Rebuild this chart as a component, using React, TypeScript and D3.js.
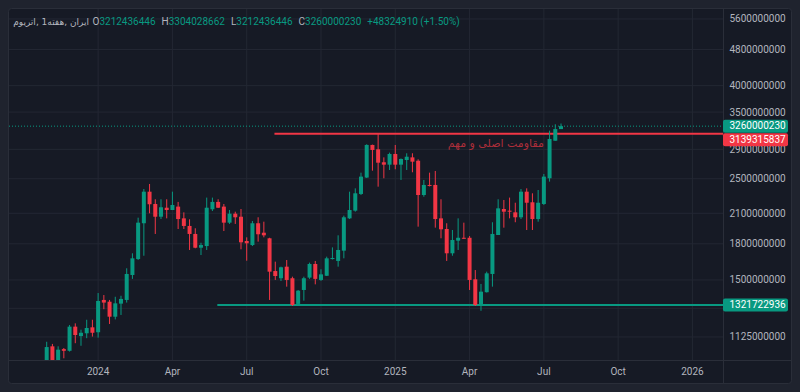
import * as d3 from "d3";

// weekly candles, first bar opens the week of 2023-10-30
const FIRST_WEEK = new Date(Date.UTC(2023, 9, 30));

// OHLC in millions of rial
const opens = [
  991, 1073, 995, 1058, 1049, 1185, 1130, 1146, 1181, 1152,
  1356, 1344, 1246, 1331, 1356, 1538, 1667, 1997, 2342, 2201,
  2064, 2160, 2135, 2172, 2047, 1970, 1892, 1765, 1780, 2143,
  2224, 2172, 2003, 2096, 2064, 1826, 1789, 1997, 1904, 1851,
  1569, 1513, 1604, 1513, 1329, 1426, 1518, 1626, 1500, 1532,
  1667, 1651, 1739, 2047, 2128, 2315, 2515, 2965, 2901, 2717,
  2684, 2833, 2684, 2748, 2785, 2738, 2303, 2423, 2423, 2047,
  1940, 1716, 1829, 1856, 1856, 1505, 1322, 1410, 1546, 1882,
  2146, 2128, 2110, 2058, 2342, 2220, 2040, 2201, 2506, 3029,
  3212.436446,
];
const highs = [
  1098, 1086, 1073, 1064, 1195, 1205, 1167, 1227, 1227, 1404,
  1390, 1356, 1378, 1385, 1591, 1716, 2054, 2374, 2435, 2254,
  2254, 2254, 2342, 2224, 2110, 2037, 1947, 1810, 2273, 2273,
  2254, 2201, 2135, 2117, 2146, 1860, 2020, 2058, 2013, 1856,
  1645, 1604, 1659, 1525, 1426, 1525, 1637, 1651, 1583, 1687,
  1768, 1879, 2075, 2342, 2382, 2578, 2975, 2970, 3139, 2785,
  2852, 2965, 2770, 2843, 2843, 2758, 2485, 2578, 2600, 2254,
  1997, 1930, 2047, 2003, 1872, 1577, 1470, 1564, 2007, 2254,
  2246, 2273, 2215, 2374, 2382, 2323, 2362, 2561, 3187, 3291,
  3304.028662,
];
const lows = [
  976, 975, 985, 1010, 1045, 1090, 1076, 1118, 1127, 1121,
  1294, 1201, 1229, 1257, 1338, 1508, 1659, 1695, 2100, 1892,
  2040, 2047, 2135, 1940, 1940, 1745, 1760, 1701, 1745, 2124,
  2157, 1920, 1990, 1990, 1751, 1653, 1780, 1820, 1860, 1356,
  1500, 1492, 1450, 1315, 1322, 1351, 1508, 1467, 1493, 1530,
  1663, 1604, 1673, 2040, 2117, 2303, 2510, 2604, 2402, 2506,
  2613, 2622, 2485, 2613, 2583, 1963, 2283, 2405, 1953, 1851,
  1651, 1695, 1745, 1845, 1426, 1315, 1284, 1408, 1450, 1882,
  1953, 2047, 2007, 2040, 1930, 1930, 2013, 2190, 2464, 3029,
  3212.436446,
];
const closes = [
  1069, 995, 1055, 1049, 1185, 1136, 1149, 1177, 1149, 1349,
  1338, 1246, 1333, 1363, 1546, 1673, 2003, 2342, 2198, 2064,
  2165, 2135, 2190, 2040, 1970, 1892, 1765, 1789, 2160, 2224,
  2160, 2003, 2096, 2058, 1814, 1805, 1997, 1889, 1879, 1564,
  1530, 1599, 1500, 1322, 1421, 1513, 1626, 1508, 1543, 1673,
  1676, 1745, 2058, 2135, 2323, 2527, 2965, 2891, 2711, 2684,
  2833, 2684, 2762, 2794, 2725, 2303, 2423, 2411, 2040, 1937,
  1716, 1835, 1856, 1847, 1500, 1322, 1414, 1551, 1892, 2153,
  2117, 2117, 2058, 2342, 2215, 2040, 2215, 2527, 3056, 3212.436446,
  3260.00023,
];

const priceTicks = [
  5600000000, 4800000000, 4000000000, 3500000000, 2900000000, 2500000000,
  2100000000, 1800000000, 1500000000, 1300000000, 1125000000,
];
// labels that sit under a price tag are not printed
const hiddenTickLabels = [1300000000];

const lastPrice = 3260000230;
const resistance = 3139315837;
const support = 1321722936;
const resistanceFrom = new Date(Date.UTC(2024, 7, 4));
const supportFrom = new Date(Date.UTC(2024, 4, 26));
const labelAt = new Date(Date.UTC(2025, 5, 30));

const titleParts = ["\u2066اتریوم\u2069", ", 1", "\u2066هفته\u2069", ", ", "\u2066ایران\u2069"];
const legendKeys = ["O", "H", "L", "C"];
const legendValues = ["3212436446", "3304028662", "3212436446", "3260000230"];
const legendChange = "+48324910 (+1.50%)";
const resistanceText = "مقاومت اصلی و مهم";

const UP = "#089981";
const DOWN = "#f23645";
const BG = "#161a25";
const GRID = "#232733";
const TEXT = "#b2b5be";
const FONT = "Roboto, 'DejaVu Sans', sans-serif";

export default function App() {
  const left = 9;
  const top = 9;
  const right = 723;
  const bottom = 360;

  const weeks = opens.map((_, i) => d3.utcMonday.offset(FIRST_WEEK, i));
  const candles = weeks.map((date, i) => ({
    date,
    open: opens[i] * 1e6,
    high: highs[i] * 1e6,
    low: lows[i] * 1e6,
    close: closes[i] * 1e6,
  }));

  const x = d3.scaleUtc().domain([weeks[0], weeks[weeks.length - 1]]).range([46.7, 561]);
  const y = d3.scaleLog().domain([1.0014e9, 6.163e9]).range([bottom, 0]);

  const timeTicks = d3.utcMonth
    .every(3)!
    .range(new Date(Date.UTC(2024, 0, 1)), new Date(Date.UTC(2026, 0, 2)))
    .map((d) => ({
      x: x(d3.utcMonday.floor(d)),
      label: d.getUTCMonth() === 0 ? String(d.getUTCFullYear()) : d3.utcFormat("%b")(d),
    }));

  const bodyW = 4;
  const tagH = 13;
  const lastY = y(lastPrice);
  const lastTagTop = lastY - tagH / 2;
  const resTagTop = lastTagTop + tagH + 0.5;
  const supY = y(support);

  return (
    <svg
      width={800}
      height={392}
      style={{ position: "absolute", left: 0, top: 0, fontFamily: FONT }}
    >
      <defs>
        <clipPath id="plot">
          <rect x={left} y={top} width={right - left} height={bottom - top} />
        </clipPath>
      </defs>
      <rect width={800} height={392} fill="#1f232e" />
      <rect x={8.5} y={8.5} width={783} height={375} rx={3} fill={BG} stroke="#2a2e39" />

      {/* grid */}
      {timeTicks.map((t) => (
        <line key={t.label + t.x} x1={t.x} x2={t.x} y1={top} y2={bottom} stroke={GRID} />
      ))}
      {priceTicks.map((p) => (
        <line key={p} x1={left} x2={right} y1={y(p)} y2={y(p)} stroke={GRID} />
      ))}

      {/* axes frame */}
      <line x1={right + 0.5} x2={right + 0.5} y1={8.5} y2={383.5} stroke="#2a2e39" />
      <line x1={8.5} x2={791.5} y1={bottom + 0.5} y2={bottom + 0.5} stroke="#2a2e39" />

      <g clipPath="url(#plot)">
        <line x1={left} x2={right} y1={lastY} y2={lastY} stroke={UP} strokeDasharray="1 2" />
        <line x1={x(resistanceFrom)} x2={right} y1={y(resistance)} y2={y(resistance)} stroke={DOWN} strokeWidth={2} />
        <line x1={x(supportFrom)} x2={right} y1={supY} y2={supY} stroke={UP} strokeWidth={2} />

        {candles.map((c) => {
          const cx = x(c.date);
          const color = c.close >= c.open ? UP : DOWN;
          const yTop = y(Math.max(c.open, c.close));
          const yBot = y(Math.min(c.open, c.close));
          return (
            <g key={+c.date}>
              <line x1={cx} x2={cx} y1={y(c.high)} y2={y(c.low)} stroke={color} strokeWidth={1} />
              <rect
                x={cx - bodyW / 2}
                y={yTop}
                width={bodyW}
                height={Math.max(yBot - yTop, 1)}
                fill={color}
              />
            </g>
          );
        })}

        <text
          x={x(labelAt)}
          y={y(resistance) + 13.5}
          textAnchor="end"
          fill="#ad2e3a"
          fontSize={11}
          fontFamily="'DejaVu Sans', sans-serif"
        >
          {resistanceText}
        </text>
      </g>

      {/* price axis */}
      {priceTicks
        .filter((p) => !hiddenTickLabels.includes(p))
        .map((p) => (
          <text key={p} x={729.5} y={y(p) + 3.5} fill={TEXT} fontSize={10}>
            {p}
          </text>
        ))}

      {/* time axis */}
      {timeTicks.map((t) => (
        <text key={t.label + t.x} x={t.x} y={375} textAnchor="middle" fill={TEXT} fontSize={10}>
          {t.label}
        </text>
      ))}

      {/* price tags */}
      <rect x={723} y={lastTagTop} width={65} height={tagH} rx={2} fill={UP} />
      <text x={729.5} y={lastTagTop + 9.8} fill="#ffffff" fontSize={10}>
        {lastPrice}
      </text>
      <rect x={723} y={resTagTop} width={65} height={tagH} rx={2} fill={DOWN} />
      <text x={729.5} y={resTagTop + 9.8} fill="#ffffff" fontSize={10}>
        {resistance}
      </text>
      <rect x={723} y={supY - tagH / 2} width={65} height={tagH} rx={2} fill={UP} />
      <text x={729.5} y={supY - tagH / 2 + 9.8} fill="#ffffff" fontSize={10}>
        {support}
      </text>

      {/* legend */}
      <text
        x={89}
        y={24.5}
        textAnchor="end"
        direction="ltr"
        fill={TEXT}
        fontSize={9}
        fontFamily="'DejaVu Sans', sans-serif"
      >
        {titleParts.join("")}
      </text>
      <text x={92.5} y={24.5} fontSize={10}>
        {legendKeys.map((k, i) => (
          <tspan key={k} dx={i === 0 ? 0 : 6}>
            <tspan fill={TEXT}>{k}</tspan>
            <tspan fill={UP}>{legendValues[i]}</tspan>
          </tspan>
        ))}
        <tspan dx={6} fill={UP}>
          {legendChange}
        </tspan>
      </text>
    </svg>
  );
}
